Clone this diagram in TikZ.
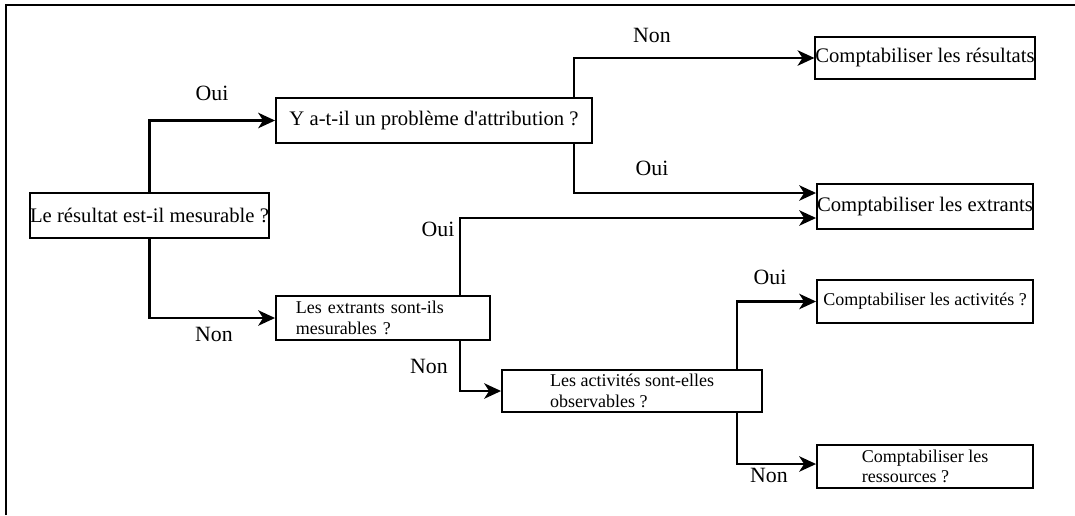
\documentclass[tikz,border=0pt]{standalone}
\usepackage{fontspec}
\setmainfont{Liberation Serif}
\usetikzlibrary{arrows.meta}

\begin{document}
\begin{tikzpicture}[x=0.025cm, y=-0.025cm,
  box/.style={draw, line width=1.3pt, inner sep=0pt, font=\fontsize{14.7}{17}\selectfont},
  smallbox/.style={box, align=left, font=\fontsize{12.8}{14.5}\selectfont},
  answer/.style={font=\fontsize{15.5}{17}\selectfont, inner sep=0pt},
  link/.style={line width=1.5pt, -{Stealth[length=12pt, width=11pt, inset=3.5pt]}}]
\useasboundingbox (0,0) rectangle (1075,515);
\draw[line width=2pt] (6,515) -- (6,5) -- (1075,5);

% questions
\node[box, minimum width=5.875cm, minimum height=1.125cm] (mesure) at (149.5,215.5) {Le résultat est-il mesurable ?};
\node[box, minimum width=7.9cm, minimum height=1.125cm] (attrib) at (434,120.5) {Y a-t-il un problème d\textquotesingle attribution ?};
\node[smallbox, minimum width=5.35cm, minimum height=1.1cm, text width=4.35cm, inner xsep=0.5cm] (extrants) at (383,318) {Les extrants sont-ils\\mesurables ?};
\node[smallbox, minimum width=6.5cm, minimum height=1.05cm] (activ) at (632,391) {Les activités sont-elles\\observables ?};

% decisions
\node[box, minimum width=5.4cm, minimum height=1.05cm] (cresult) at (925,58) {Comptabiliser les résultats};
\node[box, minimum width=5.4cm, minimum height=1.125cm] (cextr) at (925,206.5) {Comptabiliser les extrants};
\node[smallbox, minimum width=5.4cm, minimum height=1.075cm] (cactiv) at (925,301.5) {Comptabiliser les activités ?};
\node[smallbox, minimum width=5.4cm, minimum height=1.075cm] (cress) at (925,466.5) {Comptabiliser les\\ressources ?};

\draw[link] (mesure.north) |- (attrib.west);
\draw[link] (mesure.south) |- (extrants.west);
\draw[link] (attrib.north -| 574,0) |- (cresult.west);
\draw[link] (attrib.south -| 574,0) |- (cextr.west |- 0,193);
\draw[link] (extrants.north -| 460,0) |- (cextr.west |- 0,218);
\draw[link] (extrants.south -| 460,0) |- (activ.west);
\draw[link] (activ.north -| 737,0) |- (cactiv.west);
\draw[link] (activ.south -| 737,0) |- (cress.west |- 0,464);

\node[answer] (oui1) at (212,93) {Oui};
\node[answer] (non1) at (214,334) {Non};
\node[answer] (non2) at (652,35) {Non};
\node[answer] (oui2) at (652,168) {Oui};
\node[answer] (oui3) at (438,229) {Oui};
\node[answer] (non3) at (429,366) {Non};
\node[answer] (oui4) at (770,277) {Oui};
\node[answer] (non4) at (769,475) {Non};

\end{tikzpicture}
\end{document}
